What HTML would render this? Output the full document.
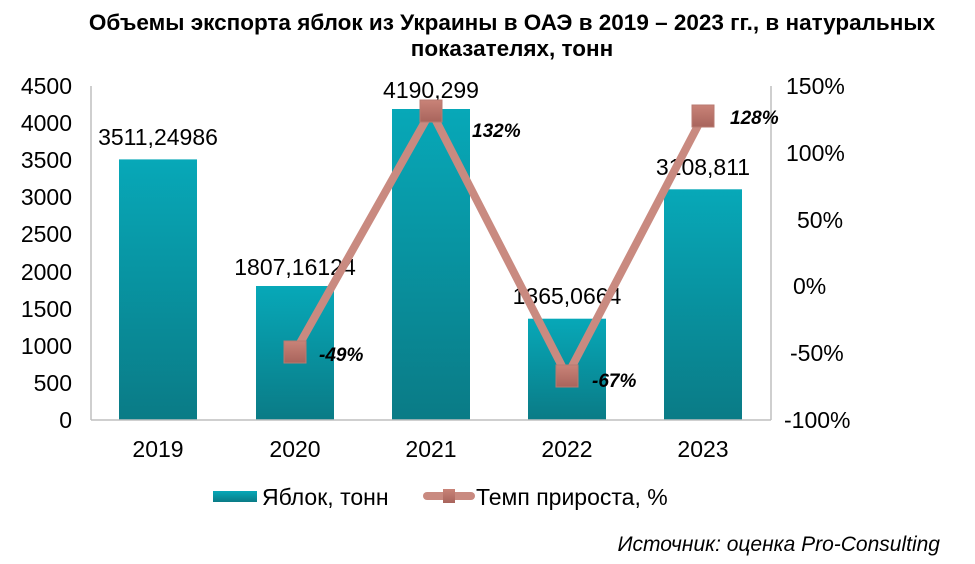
<!DOCTYPE html>
<html><head><meta charset="utf-8"><style>
body{margin:0;background:#fff}
svg{display:block;font-family:"Liberation Sans",sans-serif}
</style></head><body>
<svg width="975" height="564" viewBox="0 0 975 564">
<defs>
<linearGradient id="g" x1="0" y1="0" x2="0" y2="1">
<stop offset="0" stop-color="#07a8b8"/><stop offset="1" stop-color="#0a7b86"/></linearGradient>
<linearGradient id="m" x1="0" y1="0" x2="0" y2="1">
<stop offset="0" stop-color="#c98378"/><stop offset="1" stop-color="#a8645c"/></linearGradient>
</defs>
<text x="512" y="30" font-size="22.5" font-weight="bold" text-anchor="middle">Объемы экспорта яблок из Украины в ОАЭ в 2019 – 2023 гг., в натуральных</text>
<text x="512" y="56" font-size="22.5" font-weight="bold" text-anchor="middle">показателях, тонн</text>
<g fill="url(#g)">
<rect x="119" y="159.4" width="78" height="260.6"/>
<rect x="256" y="286" width="78" height="134"/>
<rect x="392" y="109" width="78" height="311"/>
<rect x="528" y="318.7" width="78" height="101.3"/>
<rect x="664" y="189.3" width="78" height="230.7"/>
</g>
<g stroke="#bfbfbf" stroke-width="1.5">
<line x1="91" y1="86" x2="91" y2="420"/>
<line x1="771" y1="86" x2="771" y2="420"/>
<line x1="91" y1="420" x2="771" y2="420"/>
</g>
<g font-size="23" text-anchor="end">
<text x="72" y="428">0</text><text x="72" y="391">500</text><text x="72" y="354">1000</text>
<text x="72" y="317">1500</text><text x="72" y="280">2000</text><text x="72" y="242">2500</text>
<text x="72" y="205">3000</text><text x="72" y="168">3500</text><text x="72" y="131">4000</text><text x="72" y="94">4500</text>
</g>
<g font-size="23">
<text x="784" y="428">-100%</text><text x="790" y="361">-50%</text><text x="793" y="294">0%</text>
<text x="797" y="228">50%</text><text x="786" y="161">100%</text><text x="786" y="94">150%</text>
</g>
<g font-size="23" text-anchor="middle">
<text x="158" y="457">2019</text><text x="295" y="457">2020</text><text x="431" y="457">2021</text>
<text x="567" y="457">2022</text><text x="703" y="457">2023</text>
<text x="158" y="145">3511,24986</text><text x="295" y="275">1807,16124</text>
<text x="431" y="98">4190,299</text><text x="567" y="304">1365,0664</text><text x="703" y="175">3108,811</text>
</g>
<polyline points="295,352 431,111 567,376 703,116" fill="none" stroke="#c98a80" stroke-width="8" stroke-linejoin="round"/>
<g fill="url(#m)" stroke="#b87a70" stroke-width="1">
<rect x="284" y="341" width="22" height="22"/><rect x="420" y="100" width="22" height="22"/>
<rect x="556" y="365" width="22" height="22"/><rect x="692" y="105" width="22" height="22"/>
</g>
<g font-size="19" font-weight="bold" font-style="italic">
<text x="319" y="361">-49%</text><text x="472" y="137">132%</text>
<text x="592" y="387">-67%</text><text x="730" y="124">128%</text>
</g>
<rect x="213" y="491" width="44" height="11" fill="url(#g)"/>
<text x="262" y="505" font-size="23">Яблок, тонн</text>
<line x1="427" y1="496" x2="471" y2="496" stroke="#c98a80" stroke-width="8" stroke-linecap="round"/>
<rect x="443" y="489" width="12" height="14" fill="url(#m)"/>
<text x="476" y="505" font-size="23">Темп прироста, %</text>
<text x="940" y="551" font-size="21" font-style="italic" text-anchor="end">Источник: оценка Pro-Consulting</text>
</svg>
</body></html>
